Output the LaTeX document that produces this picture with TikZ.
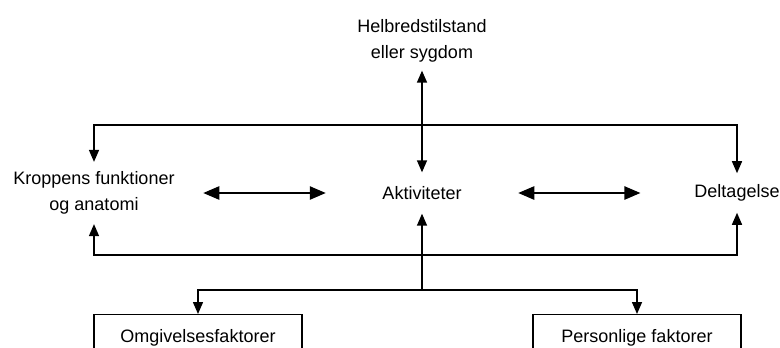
\documentclass[tikz,border=0pt]{standalone}
\usepackage{fontspec}
\setmainfont{Liberation Sans}
\usetikzlibrary{arrows.meta}

\tikzset{every picture/.style={line width=1.1pt}}
\tikzset{
	lbl/.style={inner sep=0pt, align=center, font=\fontsize{13.5}{19.5}\selectfont},
	boxnode/.style={draw, minimum width=156pt, minimum height=35.25pt, inner sep=0pt, font=\fontsize{13.5}{19.5}\selectfont},
	arrend/.style={-{Triangle[length=9pt,width=7.5pt]}},
	arrstart/.style={{Triangle[length=9pt,width=7.5pt]}-},
	arrboth/.style={{Triangle[length=9pt,width=7.5pt]}-{Triangle[length=9pt,width=7.5pt]}},
	arrwide/.style={{Triangle[length=12pt,width=10pt]}-{Triangle[length=12pt,width=10pt]}}
}

\begin{document}
\begin{tikzpicture}[x=0.75pt,y=0.75pt,yscale=-1,xscale=1]
	\useasboundingbox (0,0) rectangle (780,347);
	\clip (0,0) rectangle (780,347);
	
	% Text Node
	\node[lbl, inner ysep=6pt] (helbred) at (422,40.5) {Helbredstilstand\\eller sygdom};
	% Text Node
	\node[lbl, inner xsep=21pt, inner ysep=6.75pt] (kropp) at (94,193) {Kroppens funktioner\\og anatomi};
	% Text Node
	\node[lbl, inner xsep=42pt, inner ysep=10pt] (akt) at (422,193) {Aktiviteter};
	% Text Node
	\node[lbl, inner xsep=40pt, inner ysep=8pt] (delt) at (737,193) {Deltagelse};
	%Shape: Rectangle
	\node[boxnode, anchor=north] (omgiv) at (198,314) {Omgivelsesfaktorer};
	%Shape: Rectangle
	\node[boxnode, anchor=north] (person) at (637,314) {Personlige faktorer};
	
	\coordinate (top) at (422,125);
	\coordinate (bot) at (422,255);
	\coordinate (split) at (422,290);
	
	%Straight Lines
	\draw[arrboth] (helbred) -- (akt);
	\draw[arrwide] (kropp) -- (akt);
	\draw[arrwide] (akt) -- (delt);
	%Straight Lines
	\draw[arrboth] (kropp.north) |- (top) -| (delt.north);
	\draw[arrboth] (kropp.south) |- (bot) -| (delt.south);
	%Straight Lines
	\draw[arrstart] (akt) -- (split);
	\draw[arrend] (split) -| (omgiv.north);
	\draw[arrend] (split) -| (person.north);
	
\end{tikzpicture}
\end{document}
